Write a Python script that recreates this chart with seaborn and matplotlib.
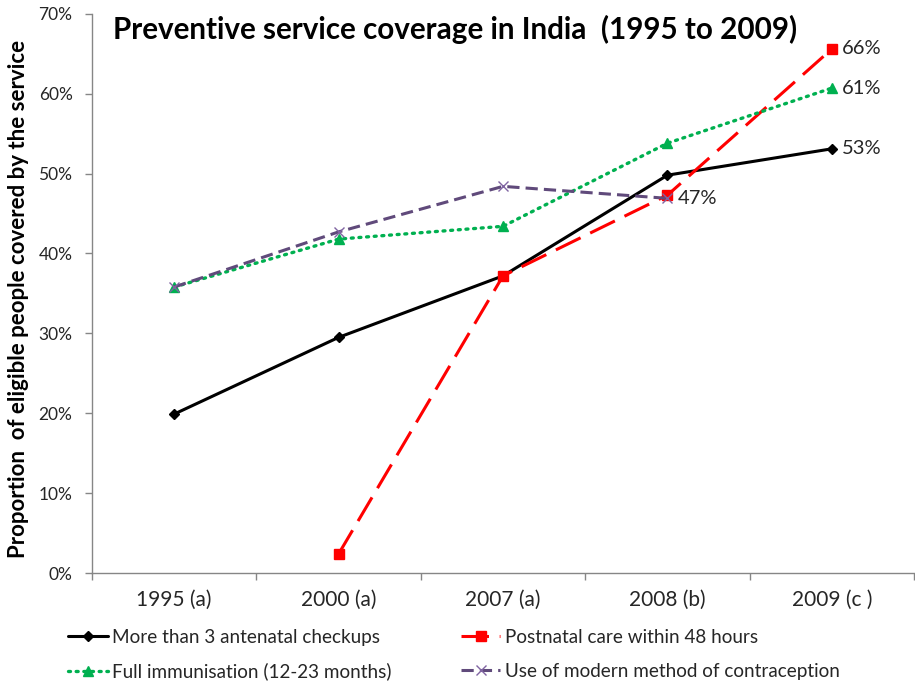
import numpy as np
import pandas as pd
import matplotlib
matplotlib.use("Agg")
import matplotlib.pyplot as plt
import seaborn as sns
from matplotlib.ticker import PercentFormatter, FixedLocator

# Survey rounds (source letters in brackets)
years = ["1995 (a)", "2000 (a)", "2007 (a)", "2008 (b)", "2009 (c )"]

# Share of eligible people covered by each service
antenatal = [0.199, 0.295, 0.372, 0.498, 0.531]
postnatal = [np.nan, 0.024, 0.372, 0.473, 0.656]
immunisation = [0.358, 0.418, 0.434, 0.538, 0.607]
contraception = [0.358, 0.427, 0.484, 0.469, np.nan]

series_names = [
    "More than 3 antenatal checkups",
    "Postnatal care within 48 hours",
    "Full immunisation (12-23 months)",
    "Use of modern method of contraception",
]
series_values = [antenatal, postnatal, immunisation, contraception]

sns.set_theme(style="white")
plt.rcParams["font.family"] = ["Lato", "DejaVu Sans"]

styles = [
    dict(color="black", linestyle="-", marker="D", markersize=5, linewidth=2.2,
         markeredgecolor="black"),
    dict(color="#ff0000", linestyle=(0, (9, 3.5)), marker="s", markersize=7, linewidth=2.2,
         markeredgecolor="#ff0000"),
    dict(color="#00b050", linestyle=(0, (0.6, 1.7)), marker="^", markersize=6.5, linewidth=2.4,
         markeredgecolor="#00b050", dash_capstyle="round"),
    dict(color="#604a7b", linestyle=(0, (4, 2)), marker="x", markersize=6.5, linewidth=2.2,
         markeredgecolor="#8064a2", markeredgewidth=1.0),
]

fig = plt.figure(figsize=(9.15, 6.88), dpi=100)
ax = fig.add_axes([0.1005, 0.167, 0.8985, 0.813])

frames = []
for name, vals in zip(series_names, series_values):
    frames.append(pd.DataFrame({"year": years, "value": vals, "series": name}))
df = pd.concat(frames, ignore_index=True)
df["pos"] = df["year"].map({y: i for i, y in enumerate(years)})

handles = []
for name, st in zip(series_names, styles):
    sub = df[df["series"] == name].dropna()
    sns.lineplot(data=sub, x="pos", y="value", ax=ax, sort=False, estimator=None,
                 color=st["color"], linestyle=st["linestyle"], linewidth=st["linewidth"],
                 marker=st["marker"], markersize=st["markersize"],
                 markeredgecolor=st["markeredgecolor"],
                 markeredgewidth=st.get("markeredgewidth", 1.0), label=name, legend=False)
    line = ax.get_lines()[-1]
    if "dash_capstyle" in st:
        line.set_dash_capstyle(st["dash_capstyle"])
    handles.append(line)

# Value labels at the final point of each series
for name in series_names:
    sub = df[df["series"] == name].dropna()
    last = sub.iloc[-1]
    ax.annotate(f"{round(last['value'] * 100):.0f}%", (last["pos"], last["value"]),
                xytext=(7.5, 0), textcoords="offset points", va="center", ha="left",
                fontsize=14.5, color="#262626")

ax.set_xlim(-0.5, len(years) - 0.5)
ax.set_ylim(0, 0.70)
ax.set_xticks(range(len(years)))
ax.set_xticklabels(years, fontsize=15, color="#262626")
ax.xaxis.set_minor_locator(FixedLocator(np.arange(-0.5, len(years), 1.0)))
ax.tick_params(axis="x", which="major", length=0, pad=12)
ax.tick_params(axis="x", which="minor", length=5, width=1, color="#868686", direction="out",
               bottom=True)
ax.set_yticks(np.arange(0, 0.71, 0.10))
ax.yaxis.set_major_formatter(PercentFormatter(1.0, decimals=0))
ax.tick_params(axis="y", length=5, width=1, color="#868686", direction="out", left=True,
               labelsize=12.5, labelcolor="#262626", pad=9)
ax.set_xlabel("")
ax.set_ylabel("Proportion  of eligible people covered by the service", fontsize=16,
              fontweight="bold", color="black", labelpad=6)
ax.yaxis.set_label_coords(-0.076, 0.49)

for side in ["top", "right"]:
    ax.spines[side].set_visible(False)
for side in ["left", "bottom"]:
    ax.spines[side].set_color("#868686")
    ax.spines[side].set_linewidth(1.0)

ax.text(0.025, 0.998, "Preventive service coverage in India  (1995 to 2009)",
        transform=ax.transAxes, ha="left", va="top", fontsize=21.3, fontweight="bold",
        color="black")

# Legend reads row by row: antenatal, postnatal / immunisation, contraception
order = [0, 2, 1, 3]
fig.legend(handles=[handles[i] for i in order], labels=[series_names[i] for i in order],
           loc="lower left", bbox_to_anchor=(0.066, 0.0), ncol=2, frameon=False,
           fontsize=13.6, handlelength=2.1, handletextpad=0.25, columnspacing=3.65,
           labelspacing=0.88, borderaxespad=0.0)

fig.savefig("out.png", dpi=100)
